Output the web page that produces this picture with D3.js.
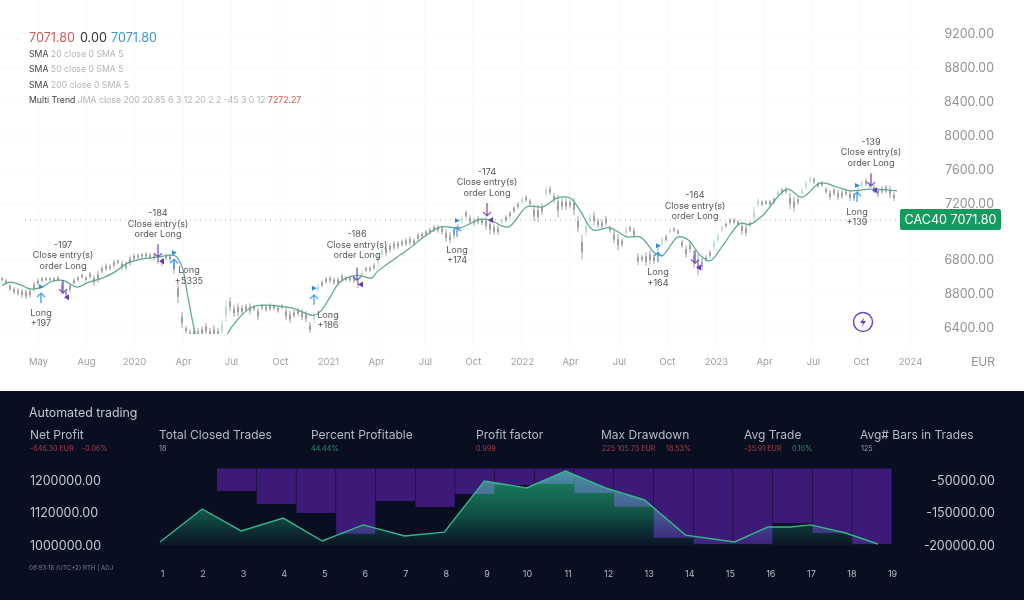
<!DOCTYPE html>
<html>
<head>
<meta charset="utf-8">
<script src="https://cdn.jsdelivr.net/npm/d3@7"></script>
<style>
  html, body { margin: 0; padding: 0; background: #fff; }
  svg { display: block; font-family: Inter, "Noto Sans", sans-serif; }
  .axis path, .axis line { display: none; }
</style>
</head>
<body>
<svg id="chart" width="1024" height="600"></svg>
<script>
var lastPrice = 7071.80;

// price panel
var priceTicks = [9200, 8800, 8400, 8000, 7600, 7200, 6800, 6600, 6400];
var priceTickLabels = ["9200.00", "8800.00", "8400.00", "8000.00", "7600.00", "7200.00", "6800.00", "8800.00", "6400.00"];
var timeTickBars = [9, 21, 33, 45.25, 57.25, 69.5, 81.5, 93.5, 105.75, 117.75, 130, 142, 154.25, 166.25, 178.5, 190.5, 202.75, 214.75, 227];
var timeTickLabels = ["May", "Aug", "2020", "Apr", "Jul", "Oct", "2021", "Apr", "Jul", "Oct", "2022", "Apr", "Jul", "Oct", "2023", "Apr", "Jul", "Oct", "2024"];

var barHigh = [
  6700,6690,6660,6640,6635,6630,6625,6630,6670,6690,6700,6700,6700,6700,6705,6675,6630,6665,6690,6705,
  6720,6705,6730,6710,6735,6765,6780,6775,6800,6805,6795,6790,6830,6845,6845,6850,6855,6850,6845,6830,
  6815,6845,6845,6805,6670,6495,6410,6390,6400,6400,6410,6430,6400,6415,6400,6450,6565,6580,6535,6545,
  6535,6540,6545,6535,6520,6540,6535,6545,6540,6530,6540,6520,6500,6505,6520,6510,6500,6435,6495,6660,
  6680,6700,6705,6695,6700,6720,6705,6710,6705,6690,6740,6760,6765,6780,6850,6895,6900,6920,6935,6935,
  6945,6955,6970,6955,6995,7000,7015,7030,7050,7050,7045,7020,7000,7035,7055,7120,7155,7120,7100,7115,
  7100,7105,7090,7055,7050,7100,7120,7150,7185,7225,7280,7305,7260,7195,7195,7210,7410,7410,7330,7305,
  7270,7270,7245,7270,7115,6980,7070,7130,7145,7100,7090,7115,7045,7010,6985,6955,7045,7045,7030,6850,
  6835,6855,6870,6845,6905,6965,6980,7030,7035,7020,6945,6905,6930,6870,6845,6815,6835,6870,6945,6995,
  7050,7070,7100,7100,7085,7070,7050,7075,7180,7270,7245,7245,7245,7280,7365,7390,7400,7330,7280,7280,
  7390,7480,7530,7515,7460,7470,7400,7365,7390,7365,7365,7365,7355,7330,7410,7480,7505,7460,7425,7390,
  7410,7425,7410,7340
];
var barLow = [
  6675,6660,6615,6600,6590,6580,6570,6580,6615,6650,6670,6675,6675,6670,6675,6600,6580,6610,6655,6675,
  6690,6675,6690,6650,6665,6720,6735,6740,6755,6775,6740,6740,6765,6795,6805,6815,6815,6805,6800,6775,
  6765,6800,6790,6720,6545,6400,6370,6335,6340,6335,6350,6360,6335,6340,6335,6350,6435,6500,6465,6470,
  6480,6495,6480,6500,6445,6505,6495,6500,6505,6490,6510,6445,6430,6460,6470,6445,6435,6370,6430,6610,
  6640,6660,6665,6655,6650,6670,6675,6670,6665,6635,6695,6730,6730,6740,6760,6815,6830,6855,6870,6880,
  6895,6900,6905,6900,6935,6955,6970,6985,7000,6995,6980,6930,6920,6950,7000,7055,7100,7055,7045,7055,
  7050,7015,6985,6980,6980,7055,7070,7100,7135,7165,7200,7225,7185,7075,7070,7120,7280,7305,7210,7105,
  7155,7155,7170,7120,7000,6805,6970,7055,7050,7030,7020,7045,6995,6920,6870,6895,6970,7000,6955,6770,
  6790,6765,6775,6775,6845,6900,6930,6985,7000,6980,6885,6815,6855,6755,6710,6740,6790,6815,6870,6920,
  7000,7030,7055,7055,7045,6980,6970,7035,7070,7180,7185,7195,7185,7200,7270,7305,7320,7165,7145,7195,
  7295,7365,7445,7435,7390,7400,7320,7245,7295,7245,7260,7295,7235,7235,7280,7390,7410,7390,7330,7280,
  7320,7330,7270,7235
];

var trendBar = [0,2,4.5,7,10,12.5,15.25,18.75,21.25,25.25,28.25,31.25,34.5,38.75,43.25,45,46.5,48.25,49.5,55,56.5,58.75,62.75,72,77.75,79.5,82,84.5,88.75,92.5,93.75,101.25,109.5,114.5,119.5,122,126.5,131.25,135.25,138.75,142,144.5,147.75,152,156.25,159.5,163.25,165,169,171.5,174.5,177,180,184.5,187,190.25,196.25,200,204.5,208.75,212,217,223.75];
var trendPrice = [6650,6670,6655,6630,6640,6675,6680,6640,6665,6695,6730,6780,6805,6820,6830,6760,6580,6370,6250,6250,6370,6445,6525,6520,6475,6495,6580,6670,6710,6695,6730,6870,7035,7030,7090,7085,7035,7180,7180,7270,7270,7155,7015,7030,6965,6965,6850,6830,6965,6945,6835,6795,6895,7060,7055,7120,7375,7280,7445,7400,7355,7375,7355];

// strategy orders
var tradeSide = ["long","close","close","long","long","close","long","close","long","close","long","close"];
var tradeBar = [9.75,15.25,39,43,78,88.75,113.75,121.25,164,173.25,213.75,217.25];
var tradePrice = [6605,6605,6820,6805,6595,6680,7035,7115,6855,6780,7340,7410];
var tradeLabel = ["+197","-197","-184","+5335","+186","-186","+174","-174","+164","-164","+139","-139"];

// performance panel
var headerNames = ["Net Profit","Total Closed Trades","Percent Profitable","Profit factor","Max Drawdown","Avg Trade","Avg# Bars in Trades"];
var tradeNumbers = d3.range(1, 20);
var drawdownTrade = d3.range(2, 19);
var drawdownValue = [-84000,-125000,-151500,-183000,-116000,-134000,-94000,-66000,-62000,-91000,-134000,-189000,-198500,-198500,-167000,-182000,-198500];
var equityTrade = [0.95,1.99,2.95,3.99,4.95,5.96,6.98,7.96,8.95,9.99,10.95,11.94,12.9,13.91,15.12,15.94,16.48,17,17.86,18.65];
var equityValue = [1011000,1127500,1051000,1098000,1014500,1073000,1033000,1047000,1197500,1180000,1222500,1180000,1150000,1036000,1011000,1065500,1065500,1073000,1043500,1003500];
var equityTicks = [1200000, 1120000, 1000000];
var drawdownTicks = [-50000, -150000, -200000];

var svg = d3.select("#chart");
var grey = "#8f9296";

var x = d3.scaleLinear().domain([0, 223]).range([2, 894]);
var y = d3.scaleLinear().domain([9200, 7200, 6800, 6400]).range([34, 204, 260, 328]);

svg.append("defs").append("clipPath").attr("id", "plotClip")
  .append("rect").attr("x", 0).attr("y", 0).attr("width", 920).attr("height", 334);

// faint grid
var grid = svg.append("g").attr("stroke", "#f9f9fa").attr("stroke-width", 1);
grid.selectAll("line.v").data(timeTickBars).enter().append("line")
  .attr("x1", function(d) { return x(d); }).attr("x2", function(d) { return x(d); })
  .attr("y1", 0).attr("y2", 345);
grid.selectAll("line.h").data(priceTicks).enter().append("line")
  .attr("x1", 0).attr("x2", 920)
  .attr("y1", function(d) { return y(d); }).attr("y2", function(d) { return y(d); });

// last price dotted line
var lastY = y(lastPrice) - 2;
svg.append("line").attr("x1", 25).attr("x2", 900).attr("y1", lastY).attr("y2", lastY)
  .attr("stroke", "#a9adb0").attr("stroke-width", 1).attr("stroke-dasharray", "1 4");

// bars
var plot = svg.append("g").attr("clip-path", "url(#plotClip)");
var bars = plot.selectAll("g.bar").data(barHigh).enter().append("g");
function barColor(d, i) { return i > 0 && d > barHigh[i - 1] + 40 ? "#a9cdbf" : "#77797b"; }
bars.append("line")
  .attr("x1", function(d, i) { return x(i); }).attr("x2", function(d, i) { return x(i); })
  .attr("y1", function(d) { return y(d); }).attr("y2", function(d, i) { return y(barLow[i]); })
  .attr("stroke", barColor).attr("stroke-width", 0.7);
bars.append("rect")
  .attr("x", function(d, i) { return x(i) - 0.55; })
  .attr("width", 1.1)
  .attr("y", function(d, i) { return y(d) + (y(barLow[i]) - y(d)) * 0.3; })
  .attr("height", function(d, i) { return (y(barLow[i]) - y(d)) * 0.4; })
  .attr("fill", barColor);

// trend line
var trendLine = d3.line()
  .x(function(d) { return x(d); })
  .y(function(d, i) { return y(trendPrice[i]); })
  .curve(d3.curveCatmullRom.alpha(0.5));
plot.append("path").attr("d", trendLine(trendBar))
  .attr("fill", "none").attr("stroke", "#5aa98f").attr("stroke-width", 1.25);

// order arrows and labels
var blue = "#3f9fe6", purple = "#7a4fc9", labelColor = "#55585c";
// label offsets for the few that sit away from their arrow
var labelShift = { 1: [0, -2], 2: [0, 2], 3: [15, -9], 4: [14, 0], 6: [0, 3], 7: [0, 2], 9: [0, -22], 11: [0, 2] };
tradeSide.forEach(function(side, i) {
  var tx = x(tradeBar[i]), ty = y(tradePrice[i]);
  var shift = labelShift[i] || [0, 0];
  var g = svg.append("g");
  var lx = tx + shift[0];
  if (side === "long") {
    g.append("path").attr("d", "M" + tx + "," + (ty + 10) + "V" + ty + "M" + (tx - 4) + "," + (ty + 4) + "L" + tx + "," + ty + "L" + (tx + 4) + "," + (ty + 4))
      .attr("fill", "none").attr("stroke", blue).attr("stroke-width", 1.3);
    g.append("path").attr("d", "M" + (tx - 2) + "," + (ty - 9) + "l5,2.5l-5,2.5z").attr("fill", "#2a8fe0");
    var baseY = ty + 23 + shift[1];
    [["Long", baseY], [tradeLabel[i], baseY + 10.3]].forEach(function(t) {
      g.append("text").attr("x", lx).attr("y", t[1]).attr("text-anchor", "middle")
        .attr("font-size", 9.1).attr("fill", labelColor).text(t[0]);
    });
  } else {
    g.append("path").attr("d", "M" + tx + "," + (ty - 13) + "V" + ty + "M" + (tx - 4) + "," + (ty - 4) + "L" + tx + "," + ty + "L" + (tx + 4) + "," + (ty - 4))
      .attr("fill", "none").attr("stroke", purple).attr("stroke-width", 1.3);
    g.append("path").attr("d", "M" + (tx + 1) + "," + (ty + 4) + "l5,-3v6z").attr("fill", "#6a35c2");
    var topY = ty - 43 + shift[1];
    [[tradeLabel[i], topY], ["Close entry(s)", topY + 10.3], ["order Long", topY + 20.6]].forEach(function(t) {
      g.append("text").attr("x", lx).attr("y", t[1]).attr("text-anchor", "middle")
        .attr("font-size", 9.1).attr("fill", labelColor).text(t[0]);
    });
  }
});

// price axis
var priceAxis = d3.axisRight(y).tickValues(priceTicks).tickSize(0)
  .tickFormat(function(d, i) { return priceTickLabels[i]; });
svg.append("g").attr("class", "axis").attr("transform", "translate(994,0)").call(priceAxis)
  .call(function(g) {
    g.selectAll("text").attr("x", 0).attr("text-anchor", "end")
      .attr("font-family", "Inter").attr("font-size", 12.4).attr("fill", grey);
  });

// time axis
var timeAxis = d3.axisBottom(x).tickValues(timeTickBars).tickSize(0)
  .tickFormat(function(d, i) { return timeTickLabels[i]; });
svg.append("g").attr("class", "axis").attr("transform", "translate(0,355.5)").call(timeAxis)
  .call(function(g) {
    g.selectAll("text").attr("font-family", "Inter").attr("font-size", 9.5).attr("fill", "#9a9da0");
  });
svg.append("text").attr("x", 995).attr("y", 366).attr("text-anchor", "end")
  .attr("font-size", 12).attr("fill", grey).text("EUR");

// last price tag
svg.append("rect").attr("x", 900).attr("y", lastY - 11).attr("width", 101).attr("height", 21)
  .attr("rx", 2).attr("fill", "#159a5f");
svg.append("text").attr("x", 950.5).attr("y", lastY + 4.5).attr("text-anchor", "middle")
  .attr("font-size", 12.6).attr("fill", "#fff").text("CAC40 7071.80");

// lightning badge
svg.append("circle").attr("cx", 863).attr("cy", 322).attr("r", 9.5)
  .attr("fill", "#fff").attr("stroke", "#6d3fc0").attr("stroke-width", 1.4);
svg.append("path").attr("d", "M864.5,317 L860,323 L863,323 L861.5,327 L866,321 L863,321 Z").attr("fill", "#6d3fc0");

// legend
var legend = svg.append("g").attr("font-size", 8.7);
var ohlc = [["7071.80", 29, "#cf5a55"], ["0.00", 80, "#333"], ["7071.80", 111, "#3f97cf"]];
ohlc.forEach(function(o) {
  svg.append("text").attr("x", o[1]).attr("y", 41.5).attr("font-size", 12.6).attr("fill", o[2]).text(o[0]);
});
var legendRows = [["SMA", "20 close 0 SMA 5", "", 57], ["SMA", "50 close 0 SMA 5", "", 72], ["SMA", "200 close 0 SMA 5", "", 88], ["Multi Trend", "JMA close 200 20.85 6 3 12 20 2 2 -45 3 0 12", "7272.27", 103]];
legendRows.forEach(function(r) {
  var t = legend.append("text").attr("x", 29).attr("y", r[3]);
  t.append("tspan").attr("fill", "#444").text(r[0] + " ");
  t.append("tspan").attr("fill", "#b3b5b8").text(r[1] + " ");
  t.append("tspan").attr("fill", "#cf5a55").text(r[2]);
});

// dark panel
svg.append("rect").attr("x", 0).attr("y", 391).attr("width", 1024).attr("height", 209).attr("fill", "#090e20");
svg.append("text").attr("x", 29).attr("y", 417).attr("font-size", 12.4).attr("fill", "#c5c8cf").text("Automated trading");

var headerX = [30, 159, 311, 476, 601, 744, 860];
headerNames.forEach(function(name, i) {
  svg.append("text").attr("x", headerX[i]).attr("y", 439).attr("font-size", 12).attr("fill", "#b6bac4").text(name);
});
var red = "#a83d46", green = "#2f8f6a", soft = "#9a9eaa";
var subValues = [["-646.30 EUR", 30, red], ["-0.06%", 82, red], ["18", 159, soft], ["44.44%", 311, green], ["0.999", 476, red], ["225 105.73 EUR", 602, red], ["18.53%", 666, red], ["-35.91 EUR", 744, red], ["0.16%", 792, green], ["125", 861, soft]];
subValues.forEach(function(s) {
  svg.append("text").attr("x", s[1]).attr("y", 451).attr("font-size", 7.2).attr("fill", s[2]).text(s[0]);
});

var tradeX = d3.scaleLinear().domain([1, 19]).range([162, 892]);
var equityY = d3.scaleLinear().domain([1200000, 1120000, 1000000]).range([480, 512, 545]);
var drawdownY = d3.scaleLinear().domain([-14000, -50000, -150000, -200000]).range([468.5, 480, 512, 545]);
var barEdge = d3.scaleLinear().domain([2, 19]).range([217, 892]);

var perf = svg.append("g");
perf.selectAll("rect.dd").data(drawdownValue).enter().append("rect")
  .attr("x", function(d, i) { return barEdge(drawdownTrade[i]); })
  .attr("width", function(d, i) { return barEdge(drawdownTrade[i] + 1) - barEdge(drawdownTrade[i]) - 0.5; })
  .attr("y", drawdownY(-14000))
  .attr("height", function(d) { return drawdownY(d) - drawdownY(-14000); })
  .attr("fill", "#3d1a78");

var grad = svg.select("defs").append("linearGradient").attr("id", "equityFill")
  .attr("x1", 0).attr("x2", 0).attr("y1", 0).attr("y2", 1);
grad.append("stop").attr("offset", "0%").attr("stop-color", "#17a860").attr("stop-opacity", 0.8);
grad.append("stop").attr("offset", "60%").attr("stop-color", "#128a55").attr("stop-opacity", 0.5);
grad.append("stop").attr("offset", "100%").attr("stop-color", "#0d6a48").attr("stop-opacity", 0.08);

var area = d3.area()
  .x(function(d) { return tradeX(d); })
  .y0(equityY(1000000))
  .y1(function(d, i) { return equityY(equityValue[i]); });
perf.append("path").attr("d", area(equityTrade)).attr("fill", "url(#equityFill)")
  .style("mix-blend-mode", "screen");
var line = d3.line()
  .x(function(d) { return tradeX(d); })
  .y(function(d, i) { return equityY(equityValue[i]); });
perf.append("path").attr("d", line(equityTrade)).attr("fill", "none")
  .attr("stroke", "#34b88a").attr("stroke-width", 1.4);

// performance axes
var moneyFormat = function(d) { return d.toFixed(2); };
var leftAxis = d3.axisRight(equityY).tickValues(equityTicks).tickSize(0).tickFormat(moneyFormat);
svg.append("g").attr("class", "axis").attr("transform", "translate(30,0)").call(leftAxis)
  .call(function(g) {
    g.selectAll("text").attr("x", 0).attr("font-family", "Inter").attr("font-size", 12.5).attr("fill", "#c5c8cf");
  });
var rightAxis = d3.axisRight(drawdownY).tickValues(drawdownTicks).tickSize(0).tickFormat(moneyFormat);
svg.append("g").attr("class", "axis").attr("transform", "translate(995,0)").call(rightAxis)
  .call(function(g) {
    g.selectAll("text").attr("x", 0).attr("text-anchor", "end")
      .attr("font-family", "Inter").attr("font-size", 12.5).attr("fill", "#c5c8cf");
  });
var tradeAxis = d3.axisBottom(tradeX).tickValues(tradeNumbers).tickSize(0).tickFormat(d3.format("d"));
svg.append("g").attr("class", "axis").attr("transform", "translate(0,568)").call(tradeAxis)
  .call(function(g) {
    g.selectAll("text").attr("font-family", "Inter").attr("font-size", 9).attr("fill", "#b6bac4");
  });
svg.append("text").attr("x", 29).attr("y", 570).attr("font-size", 6.2).attr("fill", "#7b7f8c")
  .text("08:93:16 (UTC+2)  RTH  |  ADJ");
</script>
</body>
</html>
